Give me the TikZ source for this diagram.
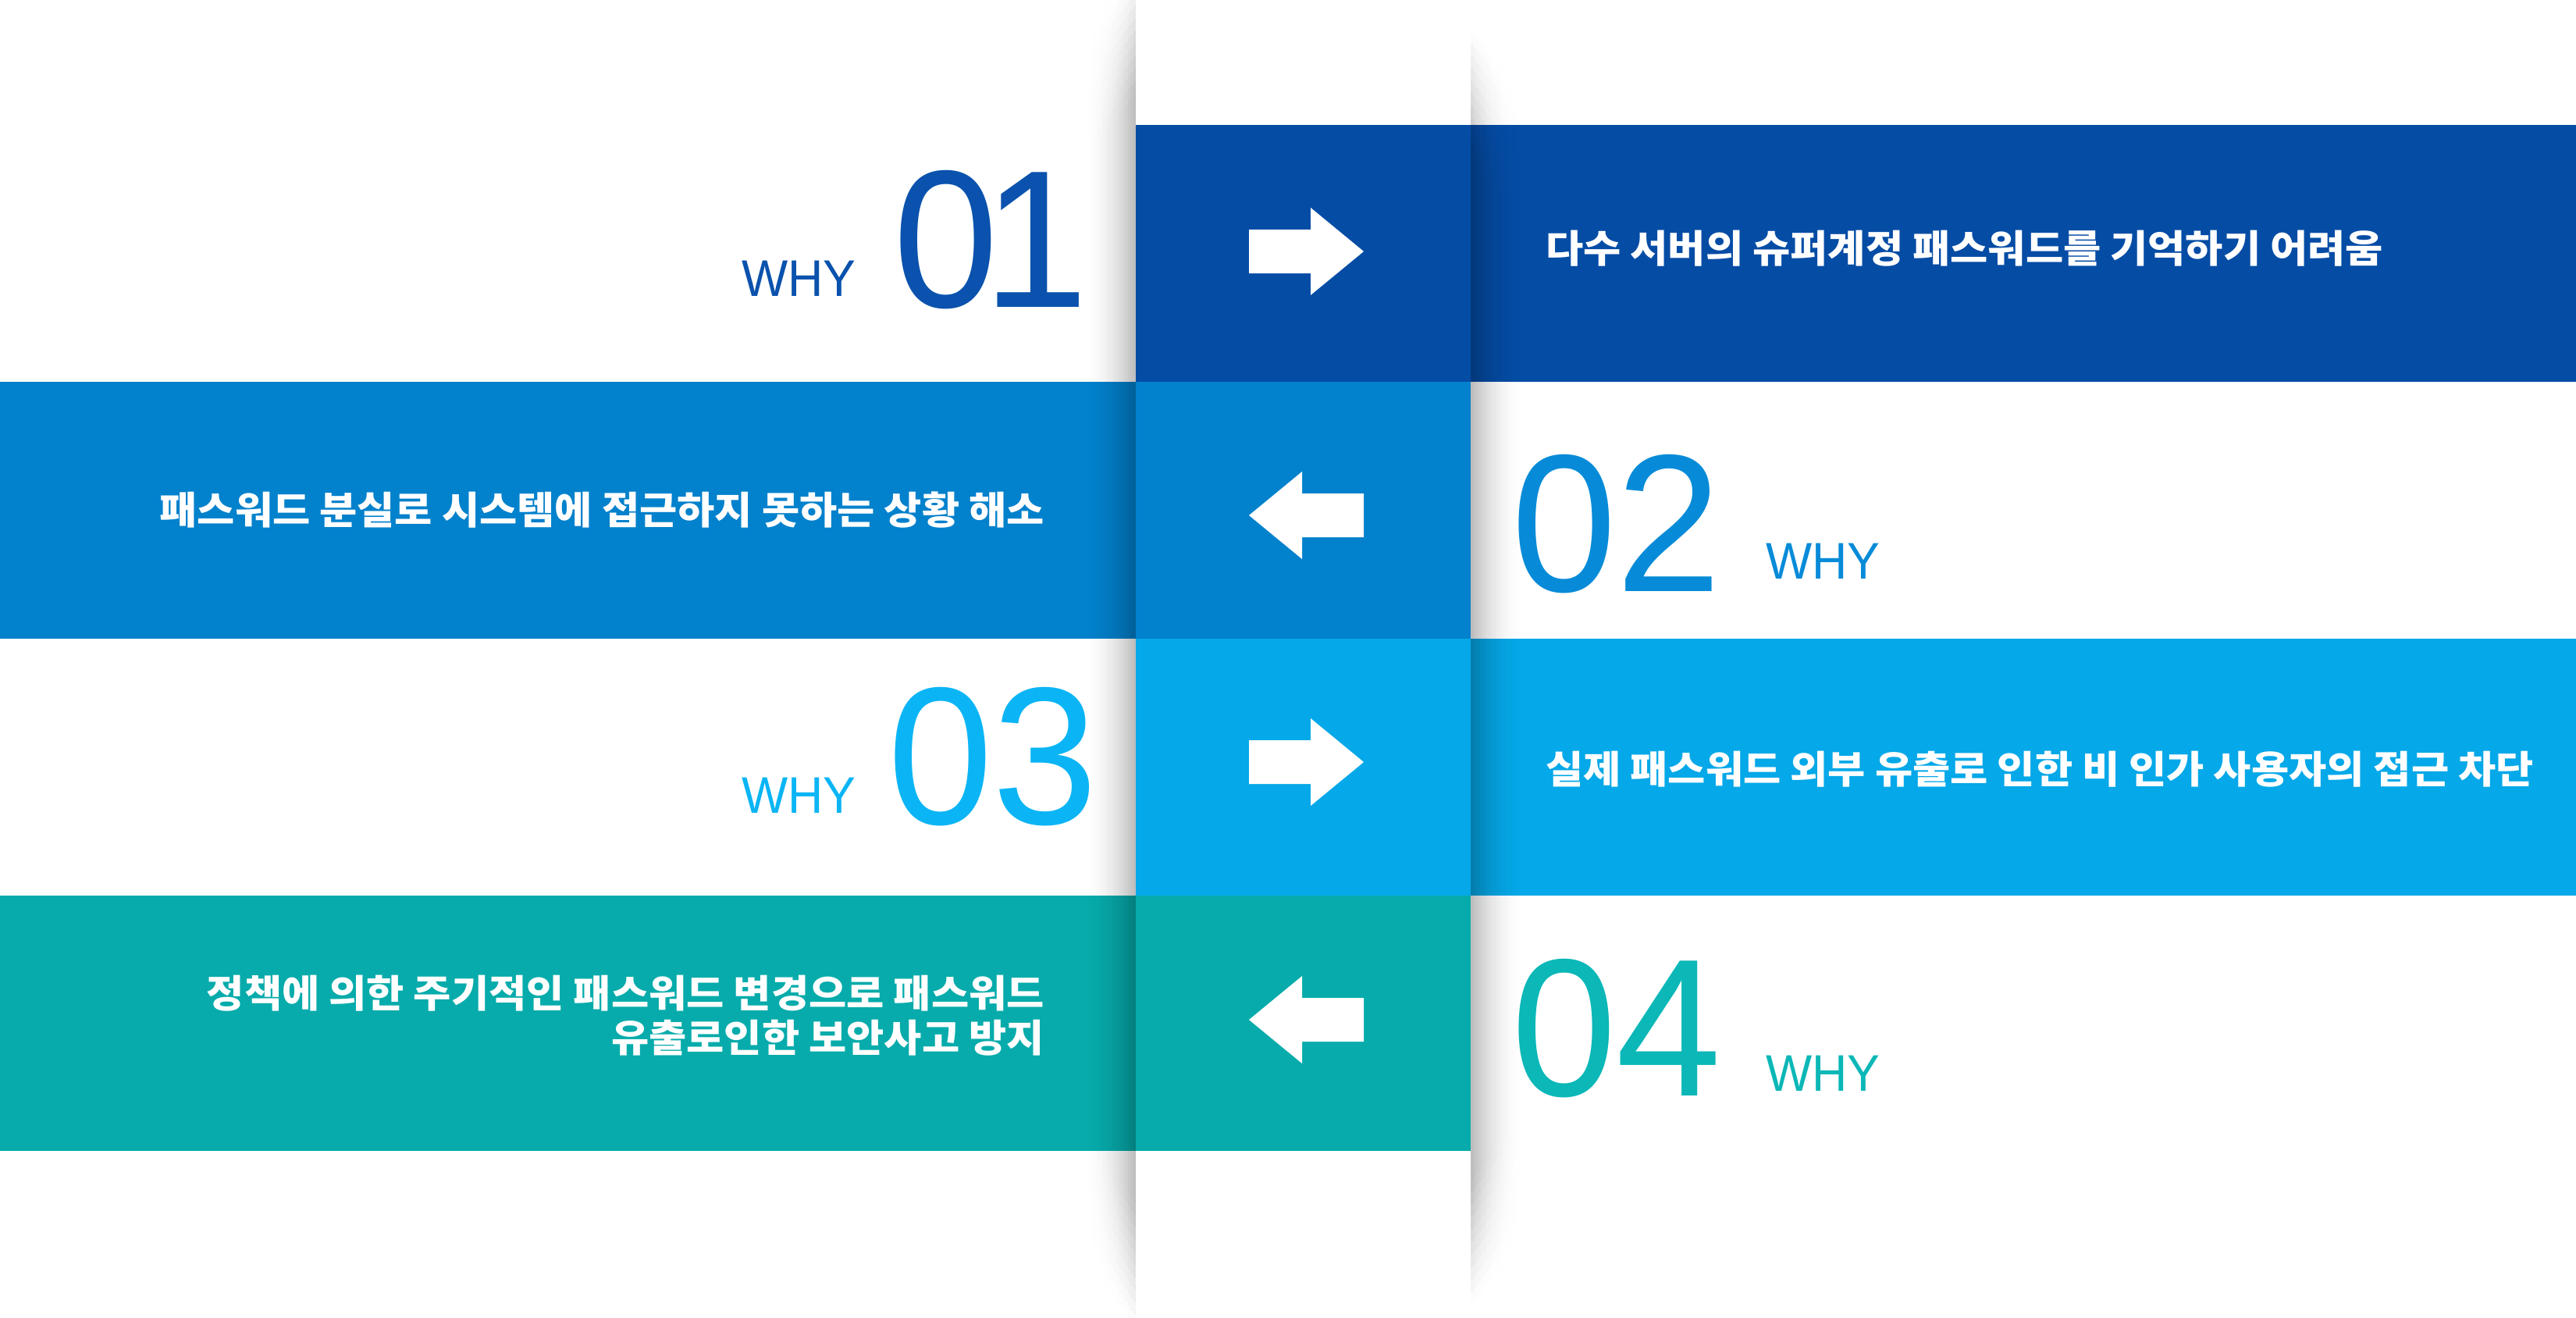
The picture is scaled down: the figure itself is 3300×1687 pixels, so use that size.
\documentclass[tikz,border=0pt]{standalone}
\usepackage{fontspec}
\setmainfont{Liberation Sans}
\newfontfamily\krfont{Noto Sans CJK KR}[FakeStretch=1.07]
\newfontfamily\numfont{Liberation Sans}[FakeStretch=0.965]
\newfontfamily\whyfont{Liberation Sans}[FakeStretch=0.95]
\definecolor{bandA}{RGB}{5,76,165}
\definecolor{bandB}{RGB}{2,129,204}
\definecolor{bandC}{RGB}{5,168,232}
\definecolor{bandD}{RGB}{7,171,171}
\definecolor{numA}{RGB}{10,82,173}
\definecolor{numB}{RGB}{7,139,216}
\definecolor{numC}{RGB}{11,181,245}
\definecolor{numD}{RGB}{11,183,183}
\newcommand\ArrRight[1]{%
  \fill[white] (1600,#1-28) -- (1679,#1-28) -- (1679,#1-56) -- (1747,#1) -- (1679,#1+56) -- (1679,#1+28) -- (1600,#1+28) -- cycle;}
\newcommand\ArrLeft[1]{%
  \fill[white] (1747,#1-28) -- (1668,#1-28) -- (1668,#1-56) -- (1600,#1) -- (1668,#1+56) -- (1668,#1+28) -- (1747,#1+28) -- cycle;}
% one vertical strip of shadow: #1 left x, #2 top y, #3 bottom y, #4 opacity
\newcommand\ShadowStrip[4]{%
  \fill[black, opacity=#4] (#1,#2+160) rectangle (#1+3.5,#3-160);
  \foreach \jj in {0,...,9}{
    \pgfmathsetmacro\oq{#4*(\jj+0.5)/10}
    \fill[black, opacity=\oq] (#1,#2+16*\jj) rectangle (#1+3.5,#2+16*\jj+16);
    \fill[black, opacity=\oq] (#1,#3-16*\jj-16) rectangle (#1+3.5,#3-16*\jj);
  }}
\begin{document}
\begin{tikzpicture}[x=1pt,y=-1pt,
  bignum/.style={anchor=base west, inner sep=0pt, font=\numfont\fontsize{251}{251}\selectfont},
  whytxt/.style={anchor=base west, inner sep=0pt, font=\whyfont\fontsize{66}{66}\selectfont},
  krtxt/.style={inner sep=0pt, text=white, font=\krfont\bfseries\fontsize{49}{57}\selectfont}]
\useasboundingbox (0,0) rectangle (3300,1687);
\fill[white] (0,0) rectangle (3300,1687);
% bands
\fill[bandA] (1455,160) rectangle (3300,489);
\fill[bandB] (0,489) rectangle (1884,818);
\fill[bandC] (1455,818) rectangle (3300,1147);
\fill[bandD] (0,1147) rectangle (1884,1474);
% shadows of the central column
\foreach \ii in {0,...,19}{
  \pgfmathsetmacro\tt{\ii/20}
  \pgfmathsetmacro\op{0.27*(1-\tt-0.025)*(1-\tt-0.025)}
  \pgfmathsetmacro\xa{1455-3.5*\ii-3.5}
  \pgfmathsetmacro\ya{-40+90*\tt}
  \pgfmathsetmacro\yb{1700-110*\tt}
  \ShadowStrip{\xa}{\ya}{\yb}{\op}
  \pgfmathsetmacro\xb{1884+3.5*\ii}
  \pgfmathsetmacro\yc{40+90*\tt}
  \pgfmathsetmacro\yd{1670-90*\tt}
  \ShadowStrip{\xb}{\yc}{\yd}{\op}
}
% arrows
\ArrRight{322}
\ArrLeft{660}
\ArrRight{976}
\ArrLeft{1306}
% numbers
\node[bignum, text=numA] (n1) at (1144,393) {0\kern-20pt 1};
\node[whytxt, text=numA] (w1) at (950,379) {WHY};
\node[bignum, text=numB] (n2) at (1936,757) {02};
\node[whytxt, text=numB] (w2) at (2262,741) {WHY};
\node[bignum, text=numC] (n3) at (1137,1055) {03};
\node[whytxt, text=numC] (w3) at (950,1041) {WHY};
\node[bignum, text=numD] (n4) at (1936,1403) {04};
\node[whytxt, text=numD] (w4) at (2262,1397) {WHY};
% texts
\node[krtxt, anchor=west] (t1) at (1980,318) {다수 서버의 슈퍼계정 패스워드를 기억하기 어려움};
\node[krtxt, anchor=east] (t2) at (1338,653) {패스워드 분실로 시스템에 접근하지 못하는 상황 해소};
\node[krtxt, anchor=west] (t3) at (1980,985) {실제 패스워드 외부 유출로 인한 비 인가 사용자의 접근 차단};
\node[krtxt, anchor=east, align=right] (t4) at (1338,1301) {정책에 의한 주기적인 패스워드 변경으로 패스워드\\유출로인한 보안사고 방지};
\end{tikzpicture}
\end{document}
